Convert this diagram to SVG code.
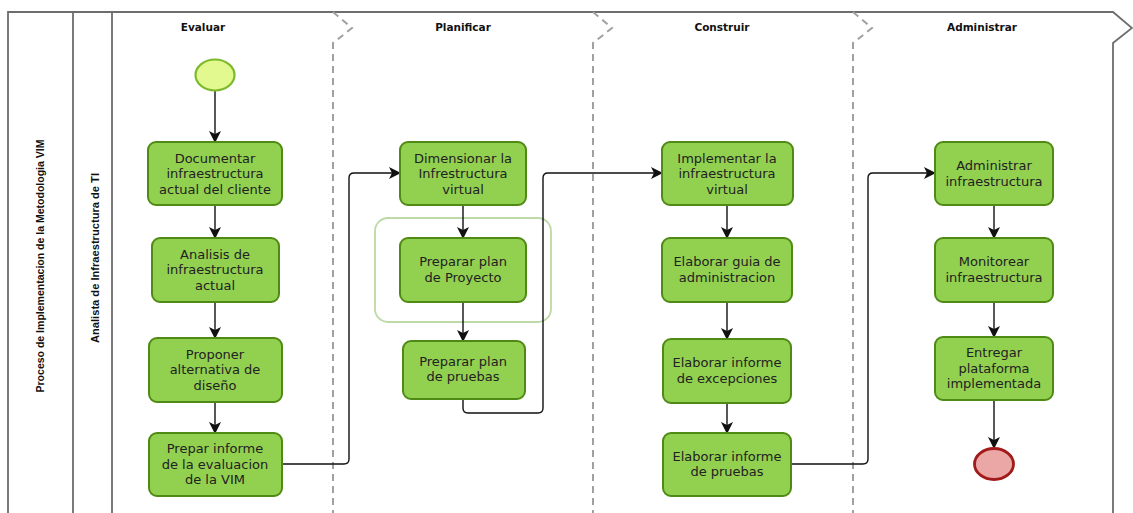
<svg xmlns="http://www.w3.org/2000/svg" width="1133" height="513" viewBox="0 0 1133 513">
<defs>
<style>
.frame{fill:none;stroke:#6d6d6d;stroke-width:1.8}
.dash{fill:none;stroke:#a0a0a0;stroke-width:2;stroke-dasharray:7 5}
.phase{font-family:"DejaVu Sans",Verdana,sans-serif;font-weight:bold;font-size:10.5px;fill:#111;text-anchor:middle}
.lane{font-family:"Liberation Sans",Arial,sans-serif;font-weight:bold;font-size:11px;fill:#111;text-anchor:middle}
.task rect{fill:#92d050;stroke:#4f8a14;stroke-width:2}
.task text{font-family:"DejaVu Sans",Verdana,sans-serif;font-size:13px;fill:#222;text-anchor:middle}
.conn{fill:none;stroke:#111;stroke-width:1.4}
</style>
<marker id="arr" viewBox="0 0 12 12" refX="11" refY="6" markerWidth="12" markerHeight="12" markerUnits="userSpaceOnUse" orient="auto">
<path d="M0,0 L12,6 L0,12 L3,6 Z" fill="#111"/>
</marker>
</defs>

<g id="frame">
<path class="frame" d="M8,513 V12 H1113 L1132,28 L1113,43 V513"/>
<line class="frame" x1="73" y1="12" x2="73" y2="513"/>
<line class="frame" x1="112" y1="12" x2="112" y2="513"/>
<path class="dash" d="M333,12 L352,28 L333,43 V513"/>
<path class="dash" d="M593,12 L612,28 L593,43 V513"/>
<path class="dash" d="M853,12 L872,28 L853,43 V513"/>
<text class="phase" x="203" y="31">Evaluar</text>
<text class="phase" x="463" y="31">Planificar</text>
<text class="phase" x="722" y="31">Construir</text>
<text class="phase" x="982" y="31">Administrar</text>
<text class="lane" transform="translate(44,266) rotate(-90)" textLength="253" lengthAdjust="spacingAndGlyphs">Proceso de Implementacion de la Metodologia VIM</text>
<text class="lane" transform="translate(99,258) rotate(-90)" textLength="170" lengthAdjust="spacingAndGlyphs">Analista de Infraestructura de TI</text>
</g>

<g id="group-box">
<rect x="375" y="218" width="176" height="104" rx="13" fill="none" stroke="#bcd9a6" stroke-width="1.8"/>
</g>

<g id="connectors">
<line class="conn" x1="215" y1="91" x2="215" y2="142" marker-end="url(#arr)"/>
<line class="conn" x1="215" y1="205" x2="215" y2="238" marker-end="url(#arr)"/>
<line class="conn" x1="215" y1="302" x2="215" y2="338" marker-end="url(#arr)"/>
<line class="conn" x1="215" y1="402" x2="215" y2="433" marker-end="url(#arr)"/>
<path class="conn" d="M282,464 H344 Q349,464 349,459 V178 Q349,173 354,173 H400" marker-end="url(#arr)"/>
<line class="conn" x1="463" y1="205" x2="463" y2="238" marker-end="url(#arr)"/>
<line class="conn" x1="463" y1="302" x2="463" y2="341" marker-end="url(#arr)"/>
<path class="conn" d="M463,399 V408 Q463,413 468,413 H538 Q543,413 543,408 V178 Q543,173 548,173 H662" marker-end="url(#arr)"/>
<line class="conn" x1="727" y1="205" x2="727" y2="238" marker-end="url(#arr)"/>
<line class="conn" x1="727" y1="302" x2="727" y2="339" marker-end="url(#arr)"/>
<line class="conn" x1="727" y1="403" x2="727" y2="433" marker-end="url(#arr)"/>
<path class="conn" d="M791,464 H863 Q868,464 868,459 V178 Q868,173 873,173 H935" marker-end="url(#arr)"/>
<line class="conn" x1="994" y1="205" x2="994" y2="238" marker-end="url(#arr)"/>
<line class="conn" x1="994" y1="302" x2="994" y2="337" marker-end="url(#arr)"/>
<line class="conn" x1="994" y1="400" x2="994" y2="448" marker-end="url(#arr)"/>
</g>

<g id="start">
<ellipse cx="215" cy="75" rx="19.5" ry="15.5" fill="#e2f98f" stroke="#7cba2c" stroke-width="2.2"/>
</g>

<g id="n-documentar" class="task">
<rect x="148" y="142" width="134" height="63" rx="8"/>
<text x="215" y="162.5">Documentar</text>
<text x="215" y="178">infraestructura</text>
<text x="215" y="193.5">actual del cliente</text>
</g>
<g id="n-analisis" class="task">
<rect x="152" y="238" width="127" height="64" rx="8"/>
<text x="215" y="258.5">Analisis de</text>
<text x="215" y="274">infraestructura</text>
<text x="215" y="289.5">actual</text>
</g>
<g id="n-proponer" class="task">
<rect x="149" y="338" width="133" height="64" rx="8"/>
<text x="215" y="358.5">Proponer</text>
<text x="215" y="374">alternativa de</text>
<text x="215" y="389.5">diseño</text>
</g>
<g id="n-prepar" class="task">
<rect x="149" y="433" width="133" height="63" rx="8"/>
<text x="215" y="453">Prepar informe</text>
<text x="215" y="468.5">de la evaluacion</text>
<text x="215" y="484">de la VIM</text>
</g>

<g id="n-dimensionar" class="task">
<rect x="400" y="142" width="126" height="63" rx="8"/>
<text x="463" y="162.5">Dimensionar la</text>
<text x="463" y="178">Infrestructura</text>
<text x="463" y="193.5">virtual</text>
</g>
<g id="n-proyecto" class="task">
<rect x="400" y="238" width="126" height="64" rx="8"/>
<text x="463" y="266">Preparar plan</text>
<text x="463" y="281.5">de Proyecto</text>
</g>
<g id="n-pruebas" class="task">
<rect x="403" y="341" width="122" height="58" rx="8"/>
<text x="463" y="366">Preparar plan</text>
<text x="463" y="381">de pruebas</text>
</g>

<g id="n-implementar" class="task">
<rect x="662" y="142" width="131" height="63" rx="8"/>
<text x="727" y="162.5">Implementar la</text>
<text x="727" y="178">infraestructura</text>
<text x="727" y="193.5">virtual</text>
</g>
<g id="n-guia" class="task">
<rect x="662" y="238" width="130" height="64" rx="8"/>
<text x="727" y="266">Elaborar guia de</text>
<text x="727" y="281.5">administracion</text>
</g>
<g id="n-excepciones" class="task">
<rect x="663" y="339" width="128" height="64" rx="8"/>
<text x="727" y="367">Elaborar informe</text>
<text x="727" y="382.5">de excepciones</text>
</g>
<g id="n-informe-pruebas" class="task">
<rect x="663" y="433" width="128" height="63" rx="8"/>
<text x="727" y="460.5">Elaborar informe</text>
<text x="727" y="476">de pruebas</text>
</g>

<g id="n-administrar" class="task">
<rect x="935" y="142" width="118" height="63" rx="8"/>
<text x="994" y="170">Administrar</text>
<text x="994" y="185.5">infraestructura</text>
</g>
<g id="n-monitorear" class="task">
<rect x="935" y="238" width="118" height="64" rx="8"/>
<text x="994" y="266">Monitorear</text>
<text x="994" y="281.5">infraestructura</text>
</g>
<g id="n-entregar" class="task">
<rect x="935" y="337" width="118" height="63" rx="8"/>
<text x="994" y="357">Entregar</text>
<text x="994" y="372.5">plataforma</text>
<text x="994" y="388">implementada</text>
</g>

<g id="end">
<ellipse cx="994" cy="464" rx="19.5" ry="15.5" fill="#eba6a6" stroke="#a21a1a" stroke-width="2.8"/>
</g>
</svg>
